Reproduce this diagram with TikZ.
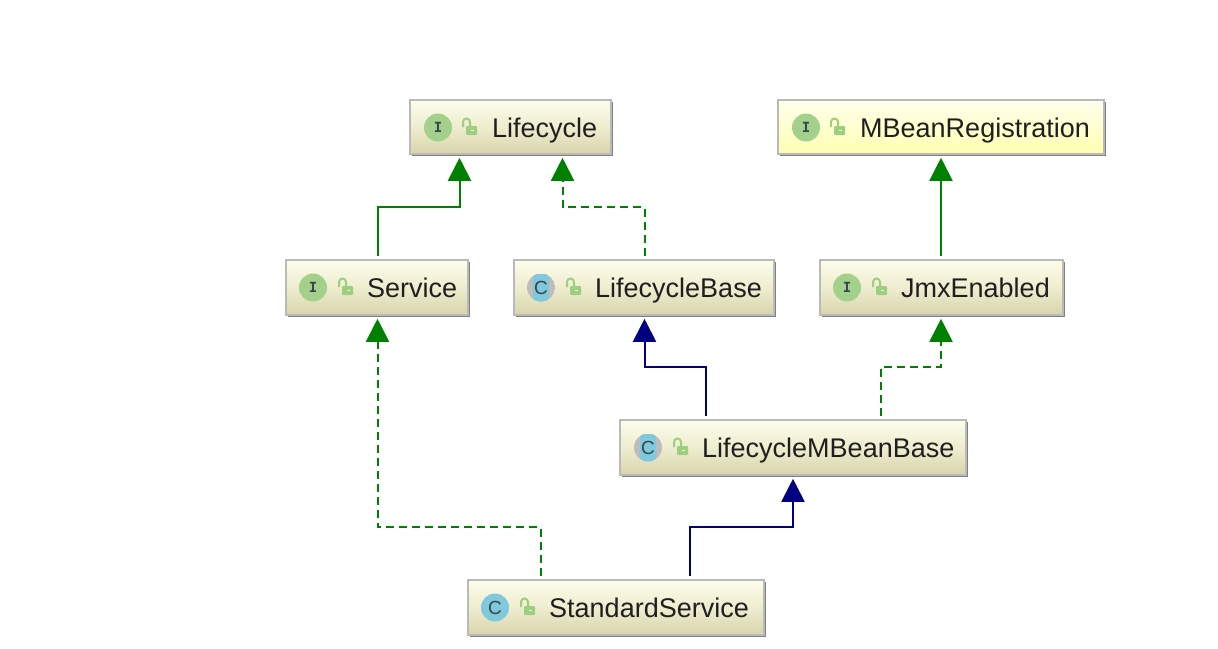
\documentclass[tikz,border=0pt]{standalone}
\usepackage{fontspec}
\setmainfont{Liberation Sans}
\newfontfamily\iconfont{DejaVu Sans Mono}
\usetikzlibrary{arrows.meta,calc,shadows,positioning}
\definecolor{inhgreen}{HTML}{008000}
\definecolor{inhblue}{HTML}{000080}
\definecolor{icongreen}{HTML}{A3D18C}
\definecolor{iconblue}{HTML}{80C8DC}
\definecolor{icongray}{HTML}{BDBDBD}
\definecolor{icontext}{HTML}{37454C}
\definecolor{lockgreen}{HTML}{9CD07E}
\definecolor{boxtop}{HTML}{FDFDEC}
\definecolor{boxmid}{HTML}{EEEDCF}
\definecolor{boxbot}{HTML}{D8D5AC}
\definecolor{yelltop}{HTML}{FFFFEC}
\definecolor{yellmid}{HTML}{FFFFD0}
\definecolor{yellbot}{HTML}{FFFFB0}
\tikzset{
  x=1pt,y=-1pt,
  umlbox/.style={draw=black!27,line width=2pt,rectangle,inner sep=0pt,anchor=north west,
    top color=boxtop,bottom color=boxbot,middle color=boxmid,
    copy shadow={shadow xshift=2.5pt,shadow yshift=-2.5pt,draw=none,fill=black!50}},
  yellbox/.style={umlbox,top color=yelltop,bottom color=yellbot,middle color=yellmid},
  boxtext/.style={anchor=base west,inner sep=0pt,font=\fontsize{27}{30}\selectfont,text=black!88},
  iconi/.style={circle,fill=icongreen,minimum size=28pt,inner sep=0pt,font=\iconfont\bfseries\fontsize{14}{14}\selectfont,text=icontext},
  iconc/.style={circle,fill=iconblue,minimum size=28pt,inner sep=0pt,font=\fontsize{19}{19}\selectfont,text=icontext},
  generalize/.style={draw=inhgreen,line width=2pt,shorten >=3pt,shorten <=3pt,-{Triangle[length=23pt,width=23pt,fill=inhgreen]}},
  realize/.style={generalize,dash pattern=on 8pt off 5pt},
  extendc/.style={draw=inhblue,line width=2pt,shorten >=3pt,shorten <=3pt,-{Triangle[length=23pt,width=23pt,fill=inhblue]}},
}
\newcommand{\lockicon}[2]{%
  \fill[lockgreen,rounded corners=1pt] (#1+4,#2+1) rectangle (#1+15,#2+10);
  \fill[white!85!lockgreen] (#1+8.5,#2+4.5) rectangle (#1+11.5,#2+6);
  \draw[lockgreen,line width=2pt] (#1+1,#2+2) -- (#1+1,#2-3) arc[start angle=180,end angle=360,x radius=3.5pt,y radius=-3.5pt] -- (#1+8,#2+1);
}
\newcommand{\abstractband}[1]{%
  \begin{scope}
    \clip (#1) circle (14pt);
    \fill[icongray] ($(#1)+(-14,-14)$) rectangle ($(#1)+(14,14)$);
    \fill[iconblue] ($(#1)+(-8,-14)$) rectangle ($(#1)+(8,14)$);
  \end{scope}
}
\begin{document}
\begin{tikzpicture}
\useasboundingbox (0,0) rectangle (1218,648);
\fill[white] (0,0) rectangle (1218,648);

% boxes
\node[umlbox,minimum width=201pt,minimum height=54pt] (life) at (408.8,98.8) {};
\node[yellbox,minimum width=326pt,minimum height=54pt] (mbean) at (776.8,98.8) {};
\node[umlbox,minimum width=182pt,minimum height=55pt] (service) at (284.8,258.8) {};
\node[umlbox,minimum width=260pt,minimum height=55pt] (lbase) at (512.8,258.8) {};
\node[umlbox,minimum width=243pt,minimum height=55pt] (jmx) at (818.8,258.8) {};
\node[umlbox,minimum width=346pt,minimum height=55pt] (lmbase) at (618.8,418.8) {};
\node[umlbox,minimum width=296pt,minimum height=55pt] (std) at (466.8,578.8) {};

% labels
\node[boxtext] (tlife) at (492,137) {Lifecycle};
\node[boxtext] (tmbean) at (860,137) {MBeanRegistration};
\node[boxtext] (tservice) at (367,297) {Service};
\node[boxtext] (tlbase) at (595,297) {LifecycleBase};
\node[boxtext] (tjmx) at (901,297) {JmxEnabled};
\node[boxtext] (tlmbase) at (702,457) {LifecycleMBeanBase};
\node[boxtext] (tstd) at (549,617) {StandardService};

% icons
\node[iconi] (ilife) at (438,127.5) {I};
\node[iconi] (imbean) at (806,127.5) {I};
\node[iconi] (iservice) at (313,287.5) {I};
\node[iconi] (ijmx) at (847,287.5) {I};
\coordinate (clbase) at (541,287.5);
\coordinate (clmbase) at (648,447.5);
\abstractband{clbase}
\abstractband{clmbase}
\node[font=\fontsize{19}{19}\selectfont,text=icontext] (ilbase) at (clbase) {C};
\node[font=\fontsize{19}{19}\selectfont,text=icontext] (ilmbase) at (clmbase) {C};
\node[iconc] (istd) at (495,607.5) {C};

\lockicon{462}{125}
\lockicon{830}{125}
\lockicon{338}{285}
\lockicon{566}{285}
\lockicon{872}{285}
\lockicon{673}{445}
\lockicon{520}{605}

% connectors
\coordinate (j1) at (377.5,207);
\coordinate (j2) at (459.5,207);
\draw[generalize] (service.north -| j1) -- (j1) -- (j2) -- (life.south -| j2);
\coordinate (j3) at (644.5,207);
\coordinate (j4) at (562.5,207);
\draw[realize] (lbase.north -| j3) -- (j3) -- (j4) -- (life.south -| j4);
\coordinate (j5) at (941,200);
\draw[generalize] (jmx.north -| j5) -- (mbean.south -| j5);
\coordinate (j6) at (705.5,367);
\coordinate (j7) at (644.5,367);
\draw[extendc] (lmbase.north -| j6) -- (j6) -- (j7) -- (lbase.south -| j7);
\coordinate (j8) at (880.5,367);
\coordinate (j9) at (941,367);
\draw[realize] (lmbase.north -| j8) -- (j8) -- (j9) -- (jmx.south -| j9);
\coordinate (j10) at (540.5,527);
\coordinate (j11) at (377.5,527);
\draw[realize] (std.north -| j10) -- (j10) -- (j11) -- (service.south -| j11);
\coordinate (j12) at (690,527);
\coordinate (j13) at (793,527);
\draw[extendc] (std.north -| j12) -- (j12) -- (j13) -- (lmbase.south -| j13);
\end{tikzpicture}
\end{document}
